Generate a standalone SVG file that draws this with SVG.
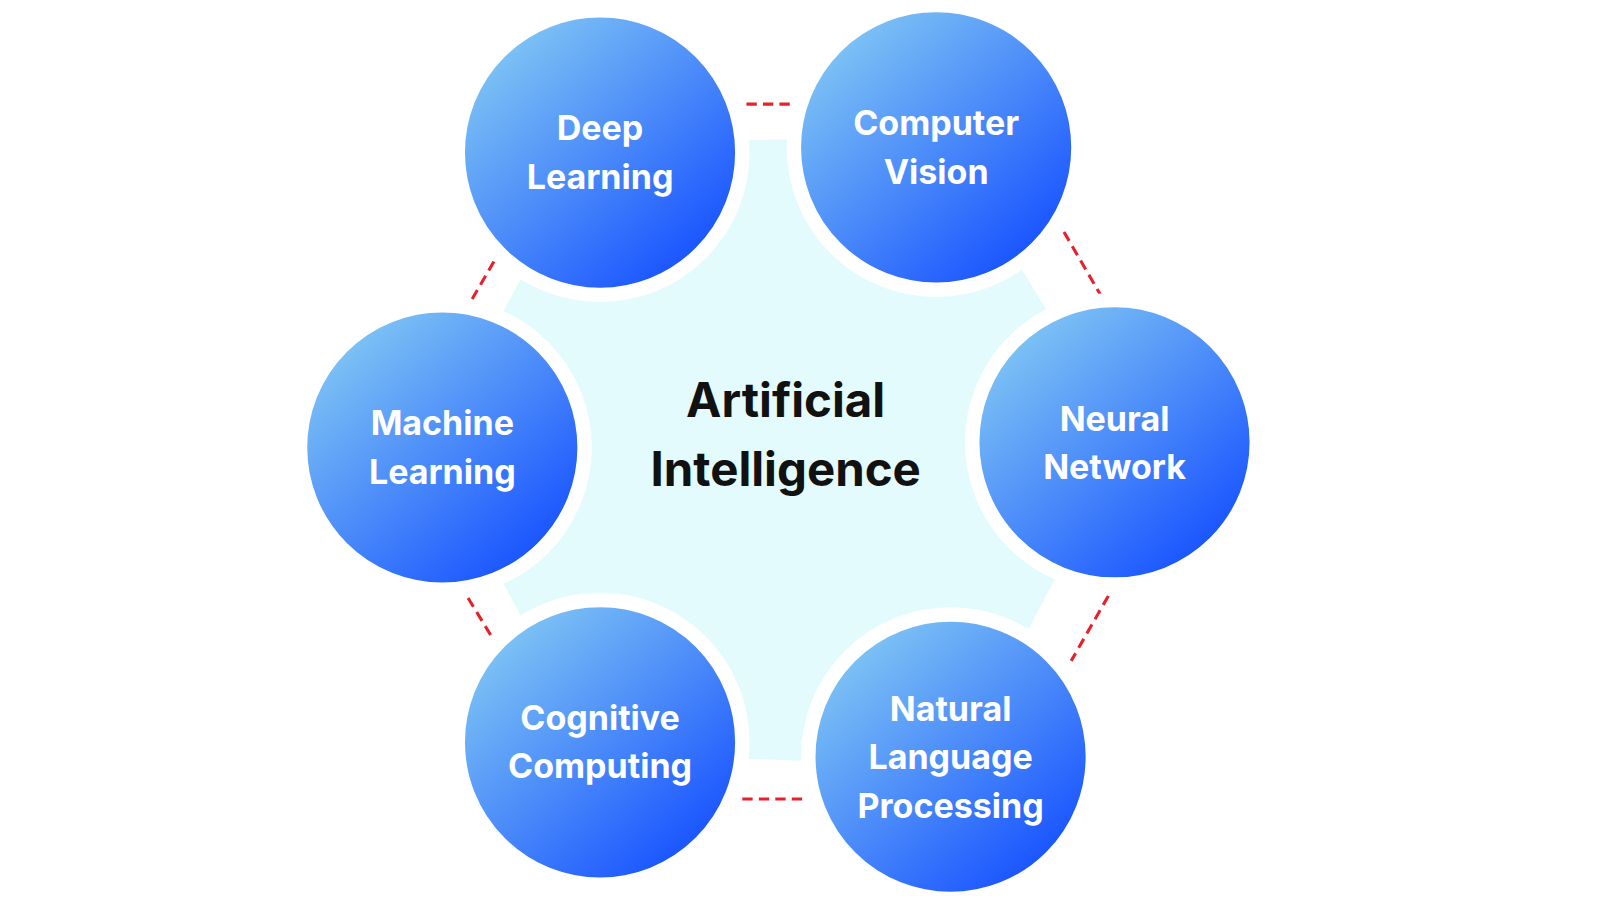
<svg xmlns="http://www.w3.org/2000/svg" width="1600" height="900" viewBox="0 0 1600 900">
<defs>
<linearGradient id="g" x1="0.15" y1="0.1" x2="0.85" y2="0.9">
<stop offset="0" stop-color="#80c6f4"/>
<stop offset="1" stop-color="#1650ff"/>
</linearGradient>
<style>
.c{fill:url(#g);stroke:#fff;stroke-width:14}
.t{font-family:Inter,"Open Sans",sans-serif;font-weight:700;font-size:33px;fill:#fff;text-anchor:middle}
.d{stroke:#e8202a;stroke-width:3;stroke-dasharray:10 6;fill:none}
</style>
</defs>
<rect width="1600" height="900" fill="#fff"/>
<g transform="scale(1.031)">
<polygon points="582,148 908,143 1081,429 922,734 582,720 429,434" fill="#e4fbfd" stroke="#e4fbfd" stroke-width="20" stroke-linejoin="miter"/>
<g id="connectors">
<line class="d" x1="724" y1="101" x2="770" y2="101"/>
<line class="d" x1="1032" y1="225" x2="1068" y2="287"/>
<line class="d" x1="1075" y1="578" x2="1039" y2="641"/>
<line class="d" x1="720" y1="775" x2="785" y2="775"/>
<line class="d" x1="454" y1="580" x2="479" y2="621"/>
<line class="d" x1="458" y1="290" x2="480" y2="252"/>
</g>
<g id="dl"><circle class="c" cx="582" cy="148" r="138"/><text class="t" x="582" y="136">Deep</text><text class="t" x="582" y="183">Learning</text></g>
<g id="cv"><circle class="c" cx="908" cy="143" r="138"/><text class="t" x="908" y="131">Computer</text><text class="t" x="908" y="178">Vision</text></g>
<g id="nn"><circle class="c" cx="1081" cy="429" r="138"/><text class="t" x="1081" y="418">Neural</text><text class="t" x="1081" y="465">Network</text></g>
<g id="ml"><circle class="c" cx="429" cy="434" r="138"/><text class="t" x="429" y="422">Machine</text><text class="t" x="429" y="469">Learning</text></g>
<g id="cc"><circle class="c" cx="582" cy="720" r="138"/><text class="t" x="582" y="708">Cognitive</text><text class="t" x="582" y="755">Computing</text></g>
<g id="nlp"><circle class="c" cx="922" cy="734" r="138"/><text class="t" x="922" y="699">Natural</text><text class="t" x="922" y="746">Language</text><text class="t" x="922" y="793">Processing</text></g>
<g id="ai" font-family="Inter,'Open Sans',sans-serif" font-weight="700" font-size="46" fill="#111" text-anchor="middle"><text x="762" y="404">Artificial</text><text x="762" y="471">Intelligence</text></g>
</g>
</svg>
